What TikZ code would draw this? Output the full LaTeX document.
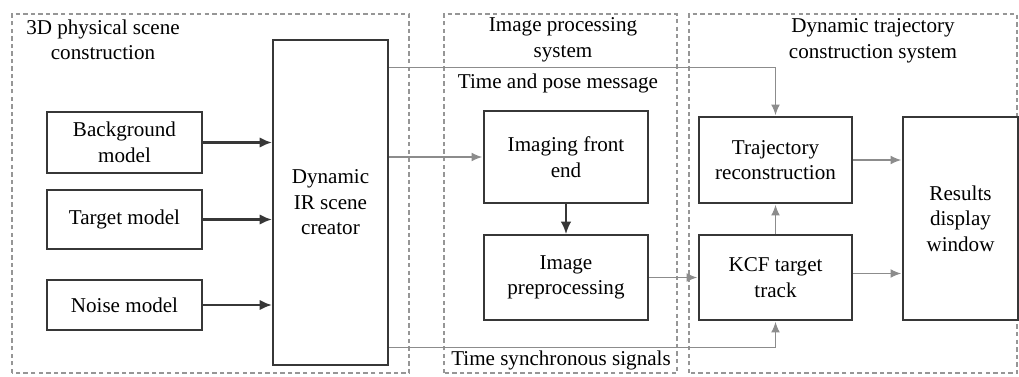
\documentclass[tikz,border=0pt]{standalone}
\usepackage{fontspec}
\setmainfont{Liberation Serif}
\definecolor{boxgray}{RGB}{55,55,55}
\definecolor{linegray}{RGB}{140,140,140}
\definecolor{dashgray}{RGB}{150,150,150}
\usetikzlibrary{arrows.meta, positioning, calc}

\begin{document}
\begin{tikzpicture}[
  font=\fontsize{12}{14.5}\selectfont,
  block/.style={rectangle, draw=boxgray, line width=1.2pt, fill=white, align=center, inner sep=2pt},
  group/.style={draw=dashgray, line width=1pt, dash pattern=on 2.5pt off 1.8pt},
  feed/.style={draw=boxgray, line width=1.4pt, -{Latex[length=7pt, width=6pt]}},
  sig/.style={draw=linegray, line width=0.6pt, -{Latex[length=6pt, width=5pt]}, shorten >=0.5pt}
]
  \useasboundingbox (0,0) rectangle (20.38,7.52);

  % dashed system frames
  \draw[group] (0.24,0.06) rectangle (8.18,7.24);
  \draw[group] (8.88,0.06) rectangle (13.54,7.24);
  \draw[group] (13.78,0.06) rectangle (20.34,7.24);

  \node[align=center] (t1) at (2.06,6.72) {3D physical scene\\construction};
  \node[align=center] (t2) at (11.26,6.72) {Image processing\\system};
  \node[align=center] (t3) at (17.46,6.70) {Dynamic trajectory\\construction system};

  % blocks
  \node[block, minimum width=3.1cm, minimum height=1.22cm] (bg) at (2.49,4.67) {Background\\model};
  \node[block, minimum width=3.1cm, minimum height=1.18cm] (tgt) at (2.49,3.13) {Target model};
  \node[block, minimum width=3.1cm, minimum height=1.0cm] (noise) at (2.49,1.42) {Noise model};
  \node[block, minimum width=2.3cm, minimum height=6.5cm] (dir) at (6.61,3.47) {Dynamic\\IR scene\\creator};
  \node[block, minimum width=3.28cm, minimum height=1.84cm] (ife) at (11.32,4.38) {Imaging front\\end};
  \node[block, minimum width=3.28cm, minimum height=1.7cm] (ipp) at (11.32,1.97) {Image\\preprocessing};
  \node[block, minimum width=3.06cm, minimum height=1.72cm] (trj) at (15.51,4.32) {Trajectory\\reconstruction};
  \node[block, minimum width=3.06cm, minimum height=1.7cm] (kcf) at (15.51,1.97) {KCF target\\track};
  \node[block, minimum width=2.3cm, minimum height=4.06cm] (res) at (19.21,3.15) {Results\\display\\window};

  \node (msg) at (11.16,5.86) {Time and pose message};
  \node (syn) at (11.22,0.32) {Time synchronous signals};

  % connectors
  \foreach \s in {bg, tgt, noise}
    \draw[feed] (\s.east) -- (\s.east -| dir.west);
  \draw[sig] (dir.east |- ife.west) -- (ife.west);
  \draw[sig] ([yshift=-0.58cm]dir.north east) -| (trj.north);
  \draw[sig] ([yshift=0.38cm]dir.south east) -| (kcf.south);
  \draw[feed, line width=1pt] (ife.south) -- (ipp.north);
  \draw[sig] (ipp.east) -- (kcf.west);
  \draw[sig] (kcf.north) -- (trj.south);
  \draw[sig] (trj.east) -- (trj.east -| res.west);
  \draw[sig] ([yshift=0.08cm]kcf.east) -- ([yshift=0.08cm]kcf.east -| res.west);
\end{tikzpicture}
\end{document}
